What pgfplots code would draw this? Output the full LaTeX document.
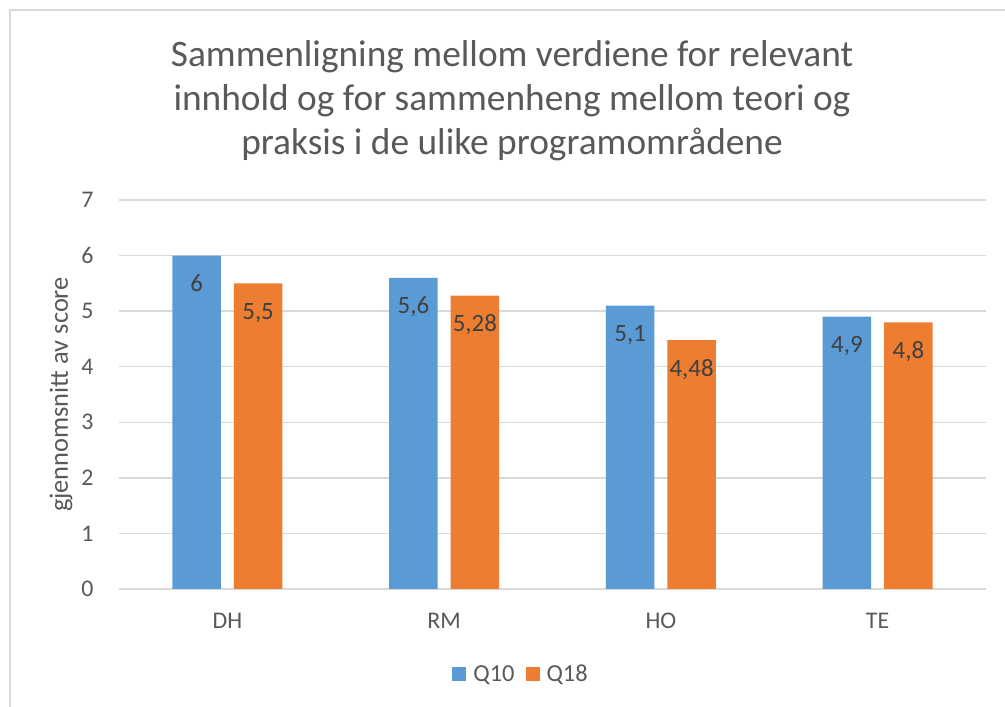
\documentclass[border=0pt]{standalone}
\usepackage{pgfplots}
\pgfplotsset{compat=1.18}
\usepackage{fontspec}
\setmainfont{Carlito}
\definecolor{qblue}{HTML}{5B9BD5}
\definecolor{qorange}{HTML}{ED7D31}
\definecolor{txtgray}{HTML}{595959}
\definecolor{lblgray}{HTML}{404040}
\definecolor{gridgray}{HTML}{D9D9D9}
\begin{document}
\begin{tikzpicture}
\useasboundingbox (0,0) rectangle (1005bp,707bp);
\fill[white] (0,0) rectangle (1005bp,707bp);
\draw[gridgray, line width=1.5bp] (10bp,0) -- (10bp,697bp) -- (1005bp,697bp);
\node[align=center, font=\fontsize{37.5}{44}\selectfont, text=txtgray] at (512bp,606bp)
  {Sammenligning mellom verdiene for relevant\\innhold og for sammenheng mellom teori og\\praksis i de ulike programområdene};
\begin{axis}[
  at={(119bp,118bp)}, anchor=south west,
  scale only axis, width=867bp, height=389bp,
  ymin=0, ymax=7, ytick={0,1,...,7},
  xmin=-0.5, xmax=3.5, xtick={0,1,2,3}, xticklabels={DH,RM,HO,TE},
  ybar=13bp, bar width=48.5bp,
  axis x line*=bottom, axis y line*=left,
  y axis line style={draw=none},
  x axis line style={gridgray, line width=1.5bp},
  ymajorgrids, major grid style={gridgray, line width=1.5bp},
  tick style={draw=none},
  /pgf/number format/assume math mode=true,
  ticklabel style={font=\fontsize{24}{28}\selectfont, text=txtgray},
  yticklabel style={xshift=-22bp},
  xticklabel style={yshift=-16bp},
  ylabel={gjennomsnitt av score},
  every axis y label/.style={at={(axis description cs:-0.0669,0.5)}, rotate=90, anchor=center, font=\fontsize{26.5}{30}\selectfont, text=txtgray},
  nodes near coords={\pgfmathprintnumber[assume math mode=true,use comma]{\pgfplotspointmeta}},
  every node near coord/.append style={anchor=base, yshift=-36bp, font=\fontsize{25}{30}\selectfont, text=lblgray},
  legend style={at={(axis description cs:0.4585,-0.2185)}, anchor=center, draw=none, fill=none,
    legend columns=2, font=\fontsize{24.5}{30}\selectfont, text=txtgray},
  legend image code/.code={\path (0bp,0bp) (28bp,0bp); \fill[#1,draw=none] (9bp,-7bp) rectangle (23bp,7bp);},
]
\addplot[fill=qblue, draw=none] coordinates {(0,6) (1,5.6) (2,5.1) (3,4.9)};
\addplot[fill=qorange, draw=none] coordinates {(0,5.5) (1,5.28) (2,4.48) (3,4.8)};
\legend{Q10,Q18}
\end{axis}
\end{tikzpicture}
\end{document}
